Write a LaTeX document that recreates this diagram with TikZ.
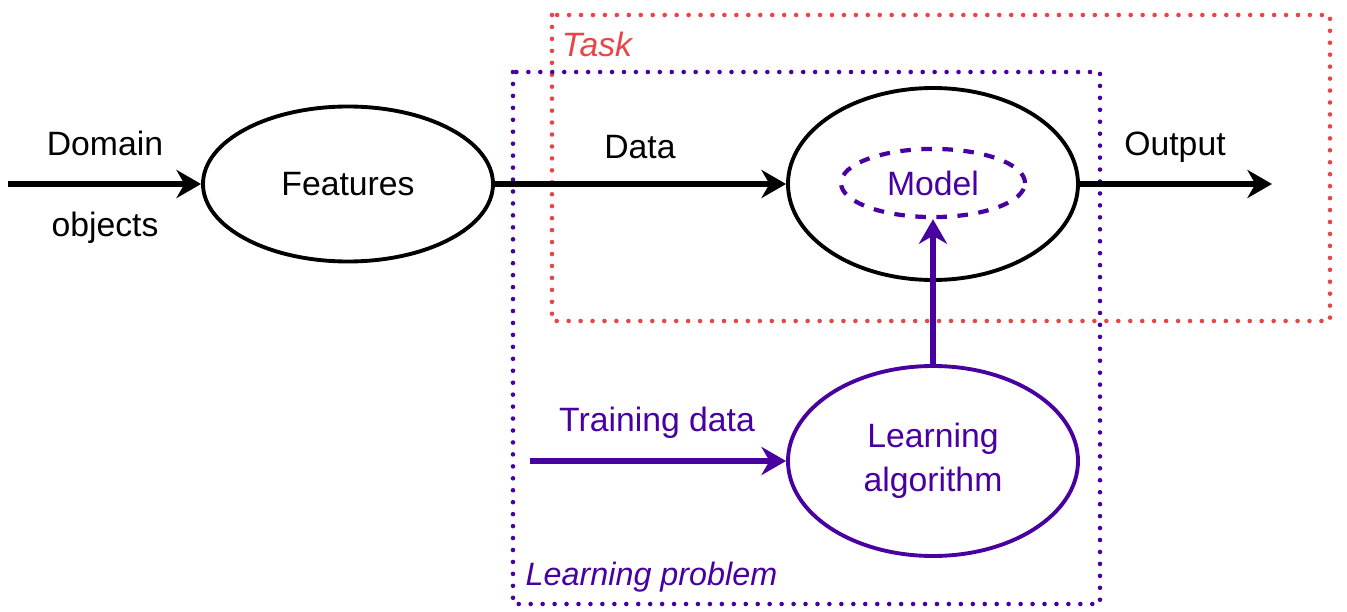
\documentclass[tikz,border=0pt]{standalone}
\usepackage{fontspec}
\setmainfont{Liberation Sans}
\usetikzlibrary{shapes.geometric,arrows.meta}
\definecolor{lpurple}{RGB}{72,0,160}
\definecolor{tred}{RGB}{232,70,70}

\begin{document}
\begin{tikzpicture}[font=\fontsize{9.6}{12}\selectfont,
  blob/.style={draw,ellipse,line width=1.1pt,minimum width=2.9cm},
  arr/.style={line width=1.5pt,-{Stealth[length=7pt,width=8pt]}},
  dots/.style={line width=1.3pt,line cap=round,dash pattern=on 0pt off 3.4pt}]
\useasboundingbox (0,0) rectangle (13.47,-6.12);
\def\tbox{rectangle (13.30,-3.21)}
\def\pbox{rectangle (11.00,-6.04)}
\draw[dots,tred] (5.52,-0.15) \tbox;
\draw[dots,lpurple] (5.13,-0.72) \pbox;
\node[tred,font=\fontsize{9.6}{12}\selectfont\itshape] (task) at (5.97,-0.44) {Task};
\node[lpurple,anchor=west,inner xsep=0pt,font=\fontsize{9.2}{12}\selectfont\itshape] (prob) at (5.25,-5.77) {Learning problem};

\coordinate (dom) at (0.08,-1.84);
\node (dlab) at (1.05,-1.43) {Domain};
\node (olab) at (1.05,-2.28) {objects};
\node[blob,minimum height=1.55cm] (feat) at (3.48,-1.84) {Features};
\node[blob,minimum height=1.92cm] (clf) at (9.33,-1.84) {};
\node[draw,ellipse,dashed,lpurple,line width=1.2pt,minimum width=1.84cm,minimum height=0.62cm] (model) at (9.33,-1.83) {Model};
\coordinate (out) at (12.72,-1.84);
\node (data) at (6.40,-1.47) {Data};
\node (olbl) at (11.75,-1.47) {Output};
\draw[arr] (dom) -- (feat);
\draw[arr] (feat) -- (clf);
\draw[arr] (clf) -- (out);

\node[blob,lpurple,minimum height=1.9cm,align=center,font=\fontsize{9.6}{12.4}\selectfont] (alg) at (9.33,-4.61) {Learning\\algorithm};
\coordinate (train) at (5.30,-4.61);
\node[lpurple] (tlab) at (6.57,-4.23) {Training data};
\draw[arr,lpurple] (train) -- (alg);
\draw[arr,lpurple] (alg) -- (model);
\end{tikzpicture}
\end{document}
